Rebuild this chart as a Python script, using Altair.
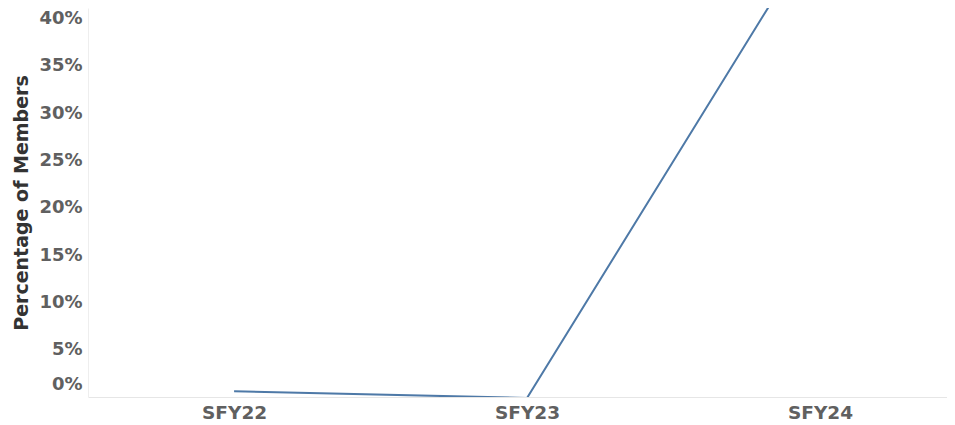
import altair as alt
import pandas as pd

years = ["SFY22", "SFY23", "SFY24"]
pct_members = [0.006, -0.001, 0.50]

df = pd.DataFrame({"year": years, "pct": pct_members})

FONT = "DejaVu Sans"
W, H = 859, 389

chart = (
    alt.Chart(df)
    .mark_line(color="#4e79a7", strokeWidth=2, clip=True)
    .encode(
        x=alt.X(
            "year:N",
            sort=years,
            title=None,
            scale=alt.Scale(type="point", padding=0.466, align=0.535),
            axis=alt.Axis(
                labelAngle=0,
                labelFont=FONT,
                labelFontSize=18.5,
                labelFontWeight="bold",
                labelColor="#606060",
                labelPadding=6,
                ticks=False,
                domainColor="#e6e6e6",
                domainWidth=1,
                grid=False,
            ),
        ),
        y=alt.Y(
            "pct:Q",
            title="Percentage of Members",
            scale=alt.Scale(domain=[0, 0.411], nice=False, zero=False),
            axis=alt.Axis(
                values=[0, 0.05, 0.10, 0.15, 0.20, 0.25, 0.30, 0.35, 0.40],
                format=".0%",
                labelFont=FONT,
                labelFontSize=18,
                labelFontWeight="bold",
                labelColor="#606060",
                labelPadding=6,
                labelFlush=3,
                labelFlushOffset=-4,
                ticks=False,
                grid=False,
                domainColor="#eeeeee",
                domainWidth=1,
                titleFont=FONT,
                titleFontSize=19,
                titleFontWeight="bold",
                titleColor="#333333",
                titlePadding=7,
            ),
        ),
    )
    .properties(
        width=W,
        height=H,
        autosize=alt.AutoSizeParams(type="none"),
        padding={"left": 80, "top": 0, "right": 0, "bottom": 28},
    )
    .configure_view(stroke=None)
)

chart.save("out.html", embed_options={"renderer": "svg", "actions": False})
